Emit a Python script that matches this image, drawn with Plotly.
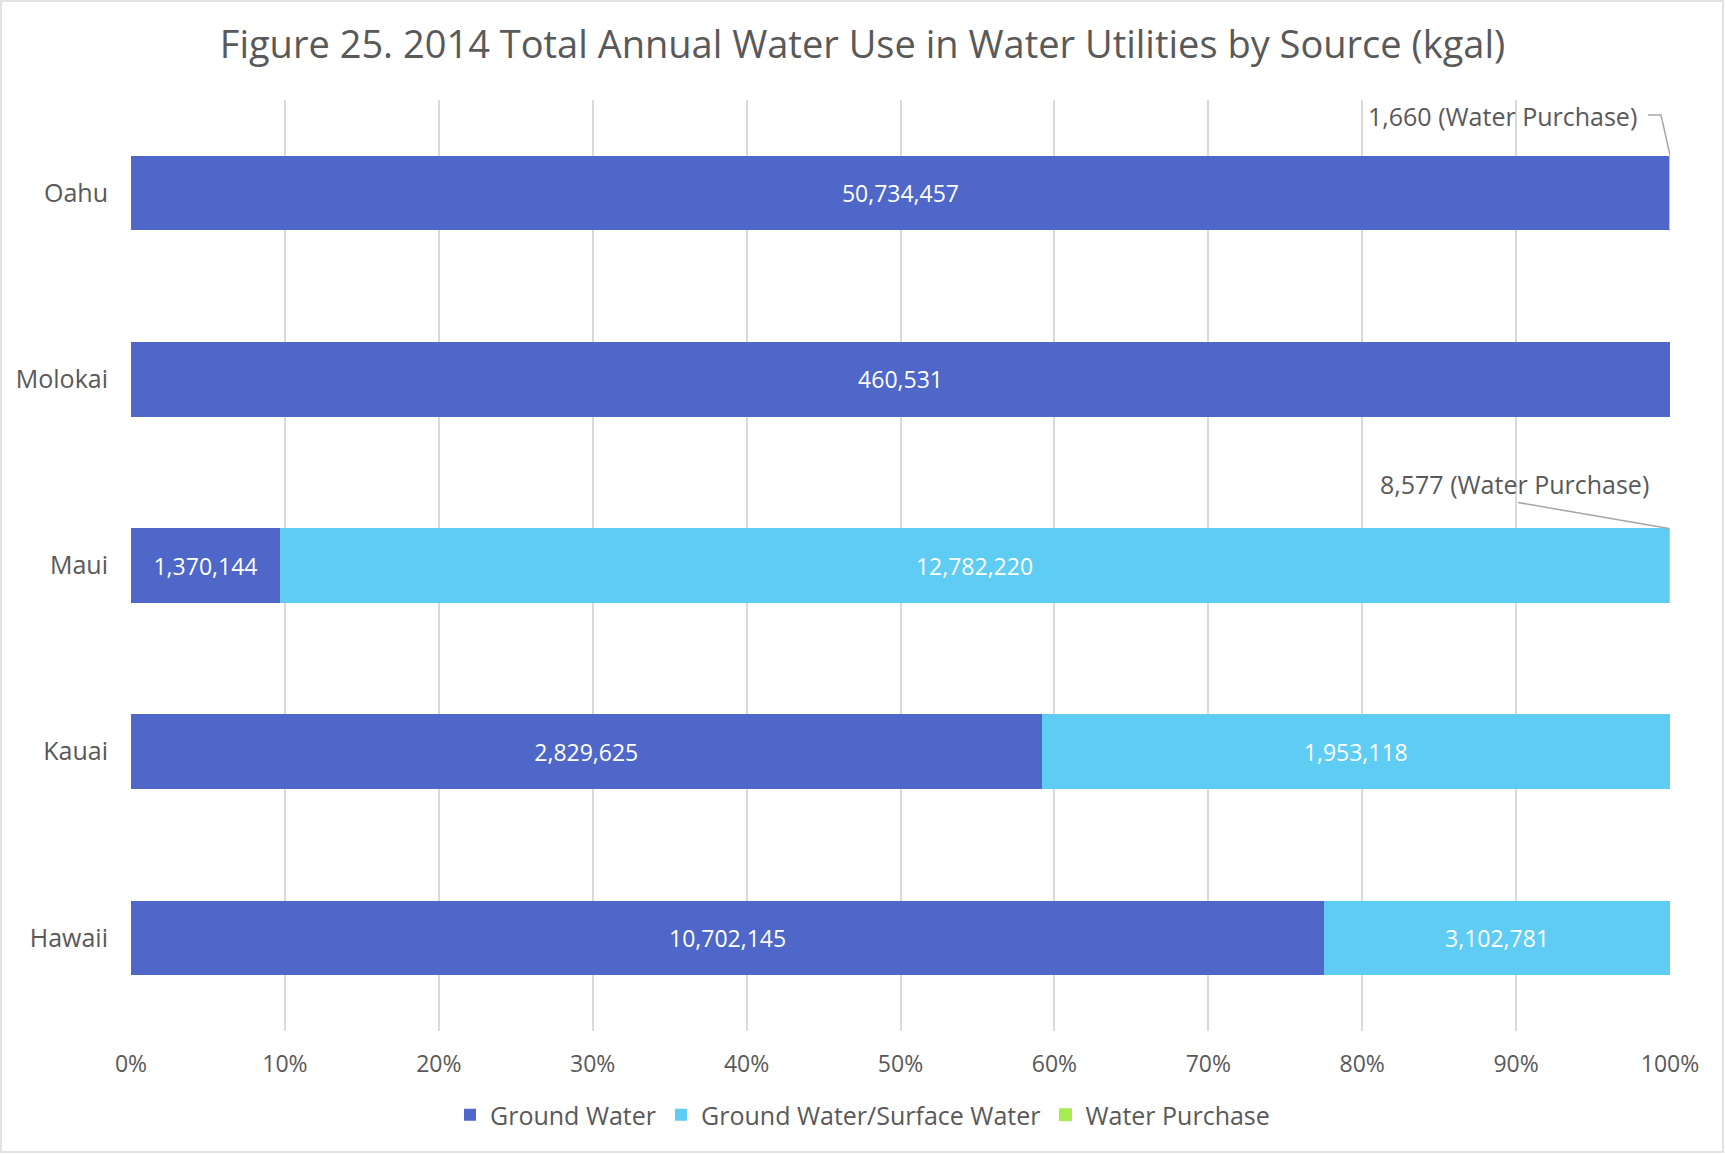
import plotly.graph_objects as go

# ---- data ----
islands = ["Oahu", "Molokai", "Maui", "Kauai", "Hawaii"]
ground_water = [50734457, 460531, 1370144, 2829625, 10702145]
gw_surface = [0, 0, 12782220, 1953118, 3102781]
water_purchase = [1660, 0, 8577, 0, 0]
x_ticks = [0, 10, 20, 30, 40, 50, 60, 70, 80, 90, 100]
x_tick_labels = [f"{t}%" for t in x_ticks]
title_text = "Figure 25. 2014 Total Annual Water Use in Water Utilities by Source (kgal)"

# ---- style ----
FONT = "Open Sans"
GRAY = "#595959"
W, H = 1725, 1154
L, R, T, B = 131, 55, 100, 123
PW, PH = W - L - R, H - T - B

def lbl(vals):
    return [f"{v:,}" if v > 0 else "" for v in vals]

fig = go.Figure()
fig.add_trace(go.Bar(y=islands, x=ground_water, orientation="h", name="Ground Water",
                     marker=dict(color="#4E67C8", line=dict(width=0)),
                     text=lbl(ground_water), textposition="inside", insidetextanchor="middle",
                     textfont=dict(color="white", size=23, family=FONT), hoverinfo="x+y+name"))
fig.add_trace(go.Bar(y=islands, x=gw_surface, orientation="h", name="Ground Water/Surface Water",
                     marker=dict(color="#5ECCF3", line=dict(width=0)),
                     text=lbl(gw_surface), textposition="inside", insidetextanchor="middle",
                     textfont=dict(color="white", size=23, family=FONT), hoverinfo="x+y+name"))
fig.add_trace(go.Bar(y=islands, x=water_purchase, orientation="h", name="Water Purchase",
                     marker=dict(color="#A7EA52", line=dict(color="#A7EA52", width=1)),
                     textposition="none", hoverinfo="x+y+name"))

# water purchase callouts
callouts = {"Oahu": dict(xshift=-31, yshift=77, path="M -22 78 L -9 78 L 0 38"),
            "Maui": dict(xshift=-19, yshift=82, path="M -152 63 L -1 37")}
for isl, wp in zip(islands, water_purchase):
    if wp > 0 and isl in callouts:
        c = callouts[isl]
        fig.add_annotation(x=100, y=isl, xref="x", yref="y", text=f"{wp:,} (Water Purchase)",
                           showarrow=False, xanchor="right", yanchor="middle",
                           xshift=c["xshift"], yshift=c["yshift"],
                           font=dict(size=25, color=GRAY, family=FONT))
        fig.add_shape(type="path", xref="x", yref="y", xsizemode="pixel", ysizemode="pixel",
                      xanchor=100, yanchor=isl, path=c["path"],
                      line=dict(color="#A6A6A6", width=1.5))

# outer border
fig.add_shape(type="rect", xref="paper", yref="paper",
              x0=(1 - L) / PW, x1=(W - 2 - L) / PW,
              y0=(PH + T - (H - 2)) / PH, y1=(PH + T - 1) / PH,
              line=dict(color="#D9D9D9", width=1.5), fillcolor="rgba(0,0,0,0)", layer="below")

fig.update_layout(
    width=W, height=H,
    margin=dict(l=L, r=R, t=T, b=B),
    barmode="stack", barnorm="percent", bargap=0.6,
    paper_bgcolor="white", plot_bgcolor="white",
    font=dict(family=FONT, color=GRAY, size=23),
    title=dict(text=title_text, x=0.5, xref="container", xanchor="center",
               y=1 - 45 / H, yref="container", yanchor="middle",
               font=dict(size=38, color=GRAY, family=FONT)),
    uniformtext=dict(minsize=23, mode="show"),
    xaxis=dict(range=[0, 100], tickvals=x_ticks, ticktext=x_tick_labels,
               showgrid=True, gridcolor="#D9D9D9", gridwidth=1.5, zeroline=False,
               showline=False, ticks="", ticklabelstandoff=17,
               tickfont=dict(size=23, color=GRAY, family=FONT), fixedrange=True),
    yaxis=dict(autorange="reversed", showgrid=False, zeroline=False, showline=False,
               ticks="", ticklabelstandoff=22,
               tickfont=dict(size=25, color=GRAY, family=FONT)),
    legend=dict(orientation="h", x=(W / 2 - L) / PW, xanchor="center",
                y=(T + PH - 1115) / PH, yanchor="middle",
                font=dict(size=25, color=GRAY, family=FONT), traceorder="normal",
                itemwidth=30),
    showlegend=True,
)

fig.write_html("out.html", config={"displayModeBar": False},
               post_script="document.body.style.margin='0';document.body.style.overflow='hidden';")
